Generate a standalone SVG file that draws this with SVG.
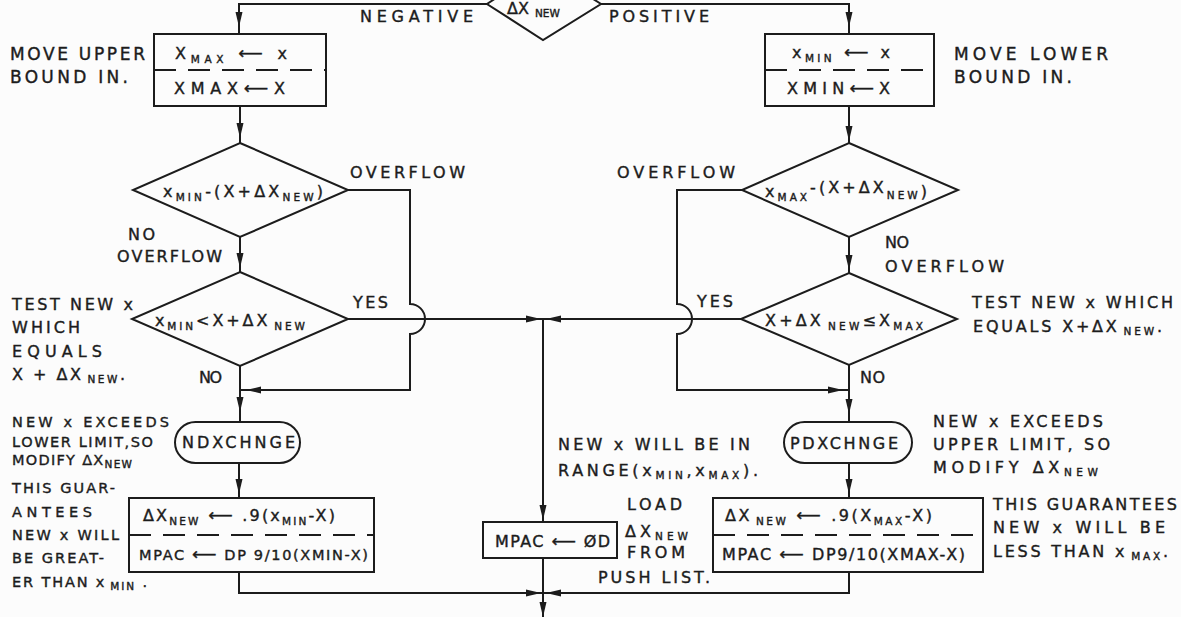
<svg xmlns="http://www.w3.org/2000/svg" width="1181" height="617" viewBox="0 0 1181 617">
  <defs>
    <style>
      .ln{fill:none;stroke:#1c1c1c;stroke-width:2;stroke-linejoin:miter;}
      .sh{fill:#fcfcfc;stroke:#1c1c1c;stroke-width:2;}
      .dv{fill:none;stroke:#1c1c1c;stroke-width:2;stroke-dasharray:22 12;}
      text{font-family:"DejaVu Sans","Liberation Sans",sans-serif;font-size:16px;fill:#1c1c1c;stroke:#1c1c1c;stroke-width:0.4;}
      .lg{font-size:17px;}
      .sm{font-size:14.5px;}
      .s{font-size:10.5px;}
      .ar{font-size:17px;}
    </style>
    <!-- flow arrowhead, tip at origin pointing along +x -->
    <path id="ah" d="M0,0 L-15,-3.5 L-15,3.5 Z" fill="#1c1c1c"/>
  </defs>

  <rect width="1181" height="617" fill="#fcfcfc"/>

  <!-- connectors -->
  <g id="connectors">
    <path class="ln" d="M487,4 H239 V34"/>
    <path class="ln" d="M601,4 H849 V34"/>
    <path class="ln" d="M240,106 V143"/>
    <path class="ln" d="M849,106 V143"/>
    <path class="ln" d="M240,237 V272"/>
    <path class="ln" d="M849,237 V273"/>
    <path class="ln" d="M348,190 H410 V304 A15,15 0 0 1 410,334 V390 H240"/>
    <path class="ln" d="M742,190 H677 V304 A15,15 0 0 1 677,334 V390 H849"/>
    <path class="ln" d="M348,319 H741"/>
    <path class="ln" d="M240,366 V422"/>
    <path class="ln" d="M849,365 V422"/>
    <path class="ln" d="M239,463 V498"/>
    <path class="ln" d="M849,463 V498"/>
    <path class="ln" d="M543,319 V522"/>
    <path class="ln" d="M239,572 V593 H849 V572"/>
    <path class="ln" d="M543,558 V617"/>

    <use href="#ah" transform="translate(239,27) rotate(90)"/>
    <use href="#ah" transform="translate(849,27) rotate(90)"/>
    <use href="#ah" transform="translate(240,138) rotate(90)"/>
    <use href="#ah" transform="translate(849,141) rotate(90)"/>
    <use href="#ah" transform="translate(240,268) rotate(90)"/>
    <use href="#ah" transform="translate(849,270) rotate(90)"/>
    <use href="#ah" transform="translate(246,390) rotate(180)"/>
    <use href="#ah" transform="translate(843,390)"/>
    <use href="#ah" transform="translate(240,412) rotate(90)"/>
    <use href="#ah" transform="translate(849,414) rotate(90)"/>
    <use href="#ah" transform="translate(239,494) rotate(90)"/>
    <use href="#ah" transform="translate(849,494) rotate(90)"/>
    <use href="#ah" transform="translate(543,520) rotate(90)"/>
    <use href="#ah" transform="translate(541,319)"/>
    <use href="#ah" transform="translate(546,319) rotate(180)"/>
    <use href="#ah" transform="translate(541,593)"/>
    <use href="#ah" transform="translate(546,593) rotate(180)"/>
    <use href="#ah" transform="translate(543,617) rotate(90)"/>

    <!-- branch labels -->
    <text x="360" y="22" textLength="113">NEGATIVE</text>
    <text x="609" y="22" textLength="100">POSITIVE</text>
    <text x="350" y="178" textLength="115">OVERFLOW</text>
    <text x="617" y="178" textLength="118">OVERFLOW</text>
    <text x="128" y="240" textLength="27">NO</text>
    <text x="117" y="262" textLength="105">OVERFLOW</text>
    <text x="885" y="248" textLength="24">NO</text>
    <text x="885" y="272" textLength="119">OVERFLOW</text>
    <text x="353" y="308" textLength="35">YES</text>
    <text x="697" y="307" textLength="36">YES</text>
    <text x="199" y="383" textLength="23">NO</text>
    <text x="860" y="383" textLength="25">NO</text>
  </g>

  <!-- sign test on the step -->
  <g id="sign-test">
    <polygon class="sh" points="543,-33 601,4 543,40 487,4"/>
    <text x="507" y="14">ΔX<tspan class="s" dx="6" dy="3">NEW</tspan></text>
  </g>

  <g id="move-upper">
    <rect class="sh" x="154" y="34" width="172" height="72"/>
    <path class="dv" d="M154,70 H326"/>
    <text x="175" y="59" textLength="112">X<tspan class="s" dy="4">MAX</tspan><tspan class="ar" dy="-4"> ⟵ </tspan>x</text>
    <text x="174" y="94" textLength="111">XMAX<tspan class="ar">⟵</tspan>X</text>
  </g>

  <g id="move-lower">
    <rect class="sh" x="765" y="34" width="169" height="72"/>
    <path class="dv" d="M765,70 H934"/>
    <text x="792" y="58" textLength="98">x<tspan class="s" dy="4">MIN</tspan><tspan class="ar" dy="-4"> ⟵ </tspan>x</text>
    <text x="787" y="94" textLength="103">XMIN<tspan class="ar">⟵</tspan>X</text>
  </g>

  <g id="min-overflow-test">
    <polygon class="sh" points="240,143 348,190 240,237 133,190"/>
    <text x="163" y="197" textLength="160">x<tspan class="s" dy="4">MIN</tspan><tspan dy="-4">-(X+ΔX</tspan><tspan class="s" dy="4">NEW</tspan><tspan dy="-4">)</tspan></text>
  </g>

  <g id="max-overflow-test">
    <polygon class="sh" points="849,143 958,190 849,237 742,190"/>
    <text x="765" y="197" textLength="162">x<tspan class="s" dy="4">MAX</tspan><tspan dy="-8">-(X+ΔX</tspan><tspan class="s" dy="6">NEW</tspan><tspan dy="-2">)</tspan></text>
  </g>

  <g id="min-range-test">
    <polygon class="sh" points="240,272 348,319 240,366 132,319"/>
    <text x="155" y="326" textLength="150">x<tspan class="s" dy="4">MIN</tspan><tspan dy="-4">&lt;X+ΔX</tspan><tspan class="s" dx="4" dy="4">NEW</tspan></text>
  </g>

  <g id="max-range-test">
    <polygon class="sh" points="849,273 957,319 849,365 741,319"/>
    <text x="765" y="326" textLength="158">X+ΔX<tspan class="s" dx="4" dy="4">NEW</tspan><tspan dy="-4">≤X</tspan><tspan class="s" dy="4">MAX</tspan></text>
  </g>

  <g id="ndxchnge">
    <rect class="sh" x="175" y="422" width="125" height="41" rx="20.5"/>
    <text x="182" y="448" textLength="113">NDXCHNGE</text>
  </g>

  <g id="pdxchnge">
    <rect class="sh" x="784" y="422" width="128" height="41" rx="20.5"/>
    <text x="790" y="449" textLength="108">PDXCHNGE</text>
  </g>

  <g id="shrink-to-min">
    <rect class="sh" x="129" y="498" width="245" height="74"/>
    <path class="dv" d="M129,535 H374"/>
    <text x="143" y="521" textLength="192">ΔX<tspan class="s" dy="4">NEW</tspan><tspan class="ar" dy="-4"> ⟵ </tspan>.9(x<tspan class="s" dy="4">MIN</tspan><tspan dy="-4">-X)</tspan></text>
    <text class="sm" x="139" y="560" textLength="229">MPAC <tspan class="ar">⟵</tspan> DP 9/10(XMIN-X)</text>
  </g>

  <g id="shrink-to-max">
    <rect class="sh" x="713" y="498" width="270" height="74"/>
    <path class="dv" d="M713,535 H983"/>
    <text x="725" y="521" textLength="207">ΔX<tspan class="s" dx="4" dy="4">NEW</tspan><tspan class="ar" dy="-4"> ⟵ </tspan>.9(X<tspan class="s" dy="4">MAX</tspan><tspan dy="-4">-X)</tspan></text>
    <text x="722" y="560" textLength="243">MPAC <tspan class="ar">⟵</tspan> DP9/10(XMAX-X)</text>
  </g>

  <g id="load-dx">
    <rect class="sh" x="483" y="522" width="134" height="36"/>
    <text x="495" y="547" textLength="115">MPAC <tspan class="ar">⟵</tspan> ØD</text>
  </g>

  <!-- side notes -->
  <g id="notes">
    <text class="lg" x="10" y="60" textLength="135">MOVE UPPER</text>
    <text class="lg" x="10" y="83" textLength="118">BOUND IN.</text>
    <text class="lg" x="954" y="60" textLength="154">MOVE LOWER</text>
    <text class="lg" x="954" y="83" textLength="118">BOUND IN.</text>

    <text x="12" y="310" textLength="121">TEST NEW x</text>
    <text x="12" y="333" textLength="68">WHICH</text>
    <text x="12" y="357" textLength="90">EQUALS</text>
    <text x="12" y="380" textLength="113">X + ΔX<tspan class="s" dx="4" dy="3">NEW</tspan><tspan dy="-3">.</tspan></text>

    <text x="972" y="308" textLength="201">TEST NEW x WHICH</text>
    <text x="973" y="332" textLength="189">EQUALS X+ΔX<tspan class="s" dx="4" dy="3">NEW</tspan><tspan dy="-3">.</tspan></text>

    <text class="sm" x="12" y="427" textLength="157">NEW x EXCEEDS</text>
    <text class="sm" x="12" y="447" textLength="141">LOWER LIMIT,SO</text>
    <text class="sm" x="12" y="465" textLength="120">MODIFY ΔX<tspan class="s" dy="3">NEW</tspan></text>
    <text class="sm" x="12" y="493" textLength="103">THIS GUAR-</text>
    <text class="sm" x="12" y="517" textLength="80">ANTEES</text>
    <text class="sm" x="12" y="540" textLength="107">NEW x WILL</text>
    <text class="sm" x="12" y="563" textLength="92">BE GREAT-</text>
    <text class="sm" x="12" y="587" textLength="135">ER THAN x<tspan class="s" dx="4" dy="3">MIN</tspan><tspan dy="-3"> .</tspan></text>

    <text x="933" y="427" textLength="170">NEW x EXCEEDS</text>
    <text x="933" y="450" textLength="177">UPPER LIMIT, SO</text>
    <text x="933" y="473" textLength="165">MODIFY ΔX<tspan class="s" dy="3">NEW</tspan></text>
    <text x="993" y="510" textLength="184">THIS GUARANTEES</text>
    <text x="993" y="533" textLength="172">NEW x WILL BE</text>
    <text x="993" y="557" textLength="175">LESS THAN x<tspan class="s" dx="4" dy="3">MAX</tspan><tspan dy="-3">.</tspan></text>

    <text x="558" y="450" textLength="192">NEW x WILL BE IN</text>
    <text x="558" y="476" textLength="200">RANGE(x<tspan class="s" dy="3">MIN</tspan><tspan dy="-3">,x</tspan><tspan class="s" dy="3">MAX</tspan><tspan dy="-3">).</tspan></text>
    <text x="627" y="510" textLength="55">LOAD</text>
    <text x="625" y="537" textLength="63">ΔX<tspan class="s" dy="3">NEW</tspan></text>
    <text x="627" y="558" textLength="58">FROM</text>
    <text x="598" y="583" textLength="112">PUSH LIST.</text>
  </g>
</svg>
